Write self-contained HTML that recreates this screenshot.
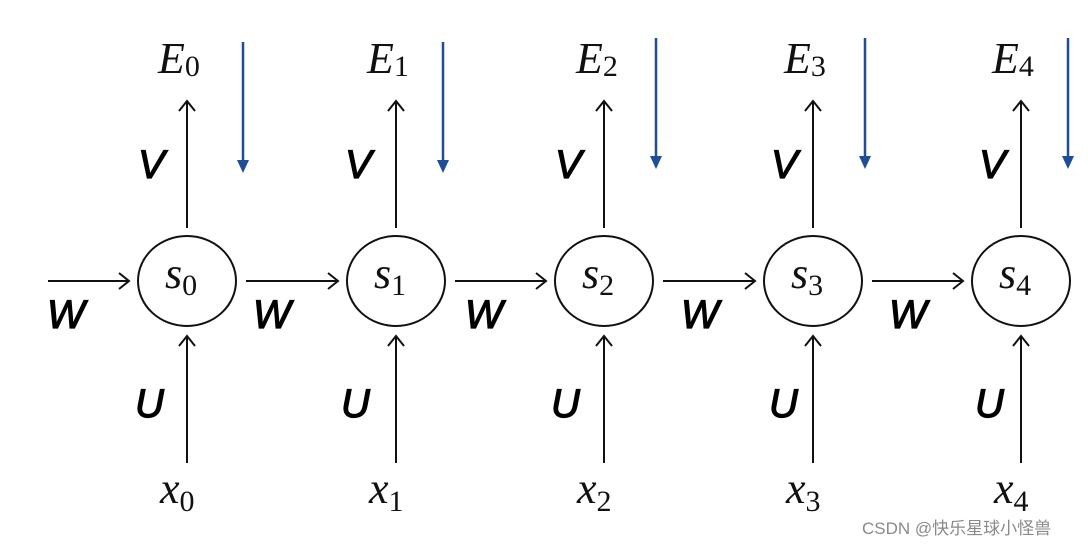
<!DOCTYPE html>
<html><head><meta charset="utf-8"><style>
html,body{margin:0;padding:0;background:#fff;}
svg{display:block;}
.m{font-family:"Liberation Serif",serif;font-style:italic;font-size:44px;fill:#111;}
.sub{font-family:"Liberation Serif",serif;font-style:normal;font-size:30px;}
.l{font-family:"Liberation Sans",sans-serif;font-style:italic;font-size:40px;fill:#000;stroke:#000;stroke-width:1.2px;}
</style></head><body>
<svg width="1088" height="546" viewBox="0 0 1088 546" xmlns="http://www.w3.org/2000/svg">
<g stroke="#111" stroke-width="2" fill="none">
<line x1="48" y1="281" x2="129" y2="281"/><polyline points="119,273 129,281 119,289"/>
<ellipse cx="187" cy="281" rx="49" ry="45"/>
<ellipse cx="396" cy="281" rx="49" ry="45"/>
<ellipse cx="604" cy="281" rx="49" ry="45"/>
<ellipse cx="813" cy="281" rx="49" ry="45"/>
<ellipse cx="1021" cy="281" rx="49" ry="45"/>
<line x1="187" y1="228" x2="187" y2="101"/><polyline points="179,111 187,101 195,111"/>
<line x1="396" y1="228" x2="396" y2="101"/><polyline points="388,111 396,101 404,111"/>
<line x1="604" y1="228" x2="604" y2="101"/><polyline points="596,111 604,101 612,111"/>
<line x1="813" y1="228" x2="813" y2="101"/><polyline points="805,111 813,101 821,111"/>
<line x1="1021" y1="228" x2="1021" y2="101"/><polyline points="1013,111 1021,101 1029,111"/>
<line x1="187" y1="463" x2="187" y2="336"/><polyline points="179,346 187,336 195,346"/>
<line x1="396" y1="463" x2="396" y2="336"/><polyline points="388,346 396,336 404,346"/>
<line x1="604" y1="463" x2="604" y2="336"/><polyline points="596,346 604,336 612,346"/>
<line x1="813" y1="463" x2="813" y2="336"/><polyline points="805,346 813,336 821,346"/>
<line x1="1021" y1="463" x2="1021" y2="336"/><polyline points="1013,346 1021,336 1029,346"/>
<line x1="246" y1="281" x2="338" y2="281"/><polyline points="328,273 338,281 328,289"/>
<line x1="455" y1="281" x2="546" y2="281"/><polyline points="536,273 546,281 536,289"/>
<line x1="663" y1="281" x2="755" y2="281"/><polyline points="745,273 755,281 745,289"/>
<line x1="872" y1="281" x2="963" y2="281"/><polyline points="953,273 963,281 953,289"/>
</g>
<g stroke="#1f4e96" stroke-width="2.5" fill="#1f4e96">
<line x1="243" y1="42" x2="243" y2="162"/><polygon points="237,160 249,160 243,173" stroke="none"/>
<line x1="443" y1="42" x2="443" y2="162"/><polygon points="437,160 449,160 443,173" stroke="none"/>
<line x1="656" y1="38" x2="656" y2="158"/><polygon points="650,156 662,156 656,169" stroke="none"/>
<line x1="865" y1="38" x2="865" y2="158"/><polygon points="859,156 871,156 865,169" stroke="none"/>
<line x1="1068" y1="38" x2="1068" y2="158"/><polygon points="1062,156 1074,156 1068,169" stroke="none"/>
</g>
<g class="m">
<text x="158" y="73">E<tspan class="sub" dy="3">0</tspan></text>
<text x="367" y="73">E<tspan class="sub" dy="3">1</tspan></text>
<text x="576" y="73">E<tspan class="sub" dy="3">2</tspan></text>
<text x="784" y="73">E<tspan class="sub" dy="3">3</tspan></text>
<text x="992" y="73">E<tspan class="sub" dy="3">4</tspan></text>
<text x="165" y="288">s<tspan class="sub" dy="7">0</tspan></text>
<text x="374" y="288">s<tspan class="sub" dy="7">1</tspan></text>
<text x="582" y="288">s<tspan class="sub" dy="7">2</tspan></text>
<text x="791" y="288">s<tspan class="sub" dy="7">3</tspan></text>
<text x="999" y="288">s<tspan class="sub" dy="7">4</tspan></text>
<text x="160" y="503">x<tspan class="sub" dy="8">0</tspan></text>
<text x="369" y="503">x<tspan class="sub" dy="8">1</tspan></text>
<text x="577" y="503">x<tspan class="sub" dy="8">2</tspan></text>
<text x="786" y="503">x<tspan class="sub" dy="8">3</tspan></text>
<text x="994" y="503">x<tspan class="sub" dy="8">4</tspan></text>
</g>
<g class="l">
<text x="138" y="178">V</text><text x="345" y="178">V</text><text x="555" y="178">V</text><text x="771" y="178">V</text><text x="979" y="178">V</text>
<text x="135" y="417">U</text><text x="341" y="417">U</text><text x="551" y="417">U</text><text x="769" y="417">U</text><text x="975" y="417">U</text>
<text x="47" y="328">W</text><text x="253" y="328">W</text><text x="465" y="328">W</text><text x="681" y="328">W</text><text x="889" y="328">W</text>
</g>
<text x="862" y="534" font-family="'Liberation Sans','Noto Sans CJK SC',sans-serif" font-size="17" fill="#8a8a8a">CSDN @快乐星球小怪兽</text>
</svg>
</body></html>
